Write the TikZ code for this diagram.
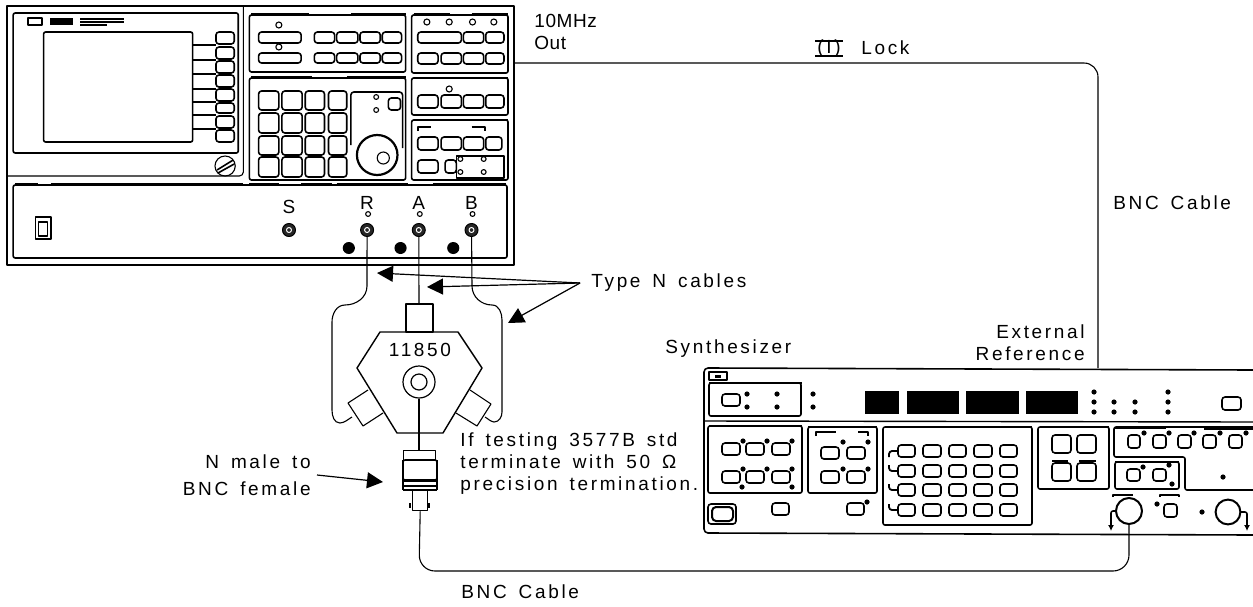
\documentclass[tikz,border=0pt]{standalone}
\usepackage{fontspec}
\setmainfont[LetterSpace=14,WordSpace=1.5]{Liberation Sans}
\usetikzlibrary{arrows.meta, positioning}
\begin{document}
\begin{tikzpicture}[x=0.5pt, y=-0.5pt, line join=round]
    \tikzstyle{line}=[line width=0.55pt]
    \tikzstyle{panel}=[line width=0.8pt, rounded corners=1pt]
    \tikzstyle{key}=[line width=0.8pt, rounded corners=1.5pt]
    \tikzstyle{hdr}=[line width=1pt]
    \tikzstyle{hdrb}=[line width=1.4pt]
    \tikzstyle{lbl}=[inner sep=0pt, align=left, font=\fontsize{9.5}{11}\selectfont]
    \tikzstyle{bnc}=[circle, draw, fill=black!85, line width=0.5pt, inner sep=0pt, minimum size=6.5pt]
    \tikzstyle{head}=[-{Triangle[length=8pt, width=8pt]}, line width=0.6pt]
    \useasboundingbox (0,0) rectangle (1253,606);

    \begin{scope}[xscale=1.014]
    \draw[line width=0.7pt] (7,6) rectangle (507,265);
    \draw[line] (240,6) -- (240,172) to[out=-90,in=0] (236,176) -- (7,176);
    \draw[panel] (13,13) rectangle (235,153);
    \draw[panel] (43,32) rectangle (190,142);
    \draw[line width=1pt] (28,18) rectangle (41,25);
    \fill (49,18) rectangle (72,25);
    \draw[line width=0.8pt] (79,19) -- (122,19) (79,22) -- (122,22) (79,25) -- (106,25);
    \foreach \ya/\yb in {32/44, 47/59, 61/73, 75/87, 89/101, 103/113, 116/128, 130/142}
        \draw[key] (213,\ya) rectangle (231,\yb);
    \foreach \y in {45, 60, 74, 89, 102, 115, 129}
        \draw[line width=0.8pt] (190,\y) -- (213,\y);
    \draw[line] (222,166) circle (10);
    \draw[line width=0.8pt] (214,170) -- (230,160) (215,173) -- (231,164);

    \draw[panel] (246,15) rectangle (400,72);
    \draw[hdr] (248,14) -- (305,14) (346,14) -- (400,14);
    \draw[key] (255,32) rectangle (297,43);
    \draw[key] (255,53) rectangle (297,63);
    \foreach \xa/\xb in {310/330, 332/353, 355/375, 377/396}
        \foreach \ya/\yb in {32/43, 53/63}
            \draw[key] (\xa,\ya) rectangle (\xb,\yb);
    \draw[line] (275,25) circle (1.5pt);
    \draw[line] (275,47) circle (1.5pt);

    \draw[panel] (406,15) rectangle (501,73);
    \draw[hdr] (408,14) -- (444,14) (465,14) -- (501,14);
    \draw[key] (412,32) rectangle (455,43);
    \foreach \xa/\xb/\ya/\yb in {457/477/32/43, 479/497/32/43, 412/432/53/64, 435/455/53/64, 457/477/53/64, 479/497/53/64}
        \draw[key] (\xa,\ya) rectangle (\xb,\yb);
    \foreach \x in {421, 443, 466, 487}
        \draw[line] (\x,22) circle (1.5pt);

    \draw[panel] (246,78) rectangle (400,180);
    \draw[hdr] (248,77) -- (308,77) (342,77) -- (400,77);
    \foreach \xa/\xb in {255/275, 278/298, 301/320, 324/342}
        \foreach \ya/\yb in {91/110, 113/133, 136/155, 157/177}
            \draw[key] (\xa,\ya) rectangle (\xb,\yb);
    \draw[key] (346,145) -- (346,92) -- (397,92) -- (397,148);
    \draw[line width=1.1pt] (372,155) circle (20);
    \draw[line] (378,158) circle (6);
    \draw[key] (383,98) rectangle (395,110);
    \draw[line] (371,97) circle (1.2pt);
    \draw[line] (371,110) circle (1.2pt);

    \draw[panel] (406,78) rectangle (501,115);
    \draw[hdr] (408,78) -- (442,78) (466,78) -- (501,78);
    \foreach \xa/\xb in {412/432, 435/455, 457/477, 479/497}
        \draw[key] (\xa,95) rectangle (\xb,108);
    \draw[line] (443,89) circle (1.5pt);

    \draw[panel] (406,120) rectangle (501,180);
    \draw[hdr] (408,120) -- (444,120) (465,120) -- (501,120);
    \draw[line width=0.9pt] (412,131) -- (412,127) -- (425,127) (465,127) -- (478,127) -- (478,131);
    \foreach \xa/\xb in {412/432, 435/455, 457/477, 479/495}
        \draw[key] (\xa,137) rectangle (\xb,150);
    \draw[key] (412,160) rectangle (432,173);
    \draw[key] (439,160) rectangle (450,173);
    \draw[line width=0.7pt] (450,156) rectangle (497,178);
    \draw[line width=1.2pt] (497,156) -- (497,178);
    \foreach \x/\y in {454/159, 477/159, 454/172, 477/172}
        \draw[line] (\x,\y) circle (1.2pt);

    \draw[panel] (13,185) rectangle (500,258);
    \foreach \xa/\xb in {15/37, 50/240, 246/275, 297/327, 332/402, 427/499}
        \draw[hdr] (\xa,184) -- (\xb,184);
    \draw[line width=0.8pt] (35,217) rectangle (50,239);
    \draw[line] (38,222) rectangle (47,236);

    \foreach \n/\x in {S/285, R/362, A/413, B/465}
        \draw (\x,230) node[bnc] (\n) {} node[circle, draw=white, line width=0.5pt, inner sep=0pt, minimum size=2.5pt] {};
    \foreach \x in {363, 414, 466}
        \draw[line] (\x,214) circle (1.2pt);
    \foreach \x in {344, 395, 447}
        \fill (\x,248) circle (3pt);
    \draw (285,207) node[lbl] (Slbl) {S};
    \draw (362,203) node[lbl] (Rlbl) {R};
    \draw (413,203) node[lbl] (Albl) {A};
    \draw (465,203) node[lbl] (Blbl) {B};
    \end{scope}

    \draw (534,32) node[lbl, anchor=west] (mhz) {\addfontfeature{LetterSpace=3}10MHz\\\addfontfeature{LetterSpace=3}Out};
    \draw (861,48) node[lbl, anchor=west] (lock) {Lock};
    \draw (829,48.5) node[inner sep=0pt, font=\fontsize{9.5}{10}\selectfont] (lockicon) {(I)};
    \draw[line] (815,41) -- (843,41) (815,56) -- (843,56);
    \draw (1113,203) node[lbl, anchor=west] (bncright) {BNC Cable};
    \draw (591,283) node[lbl, anchor=west] (typen) {Type N cables};
    \draw (665,349) node[lbl, anchor=west] (synth) {Synthesizer};
    \draw (1085,343) node[lbl, anchor=east, align=right] (extref) {External\\Reference};
    \draw (420,350) node[lbl] (model) {11850};
    \draw (460,464) node[lbl, anchor=west] (note) {If testing 3577B std\\terminate with 50 Ω\\precision termination.};
    \draw (311,475) node[lbl, anchor=east, align=right] (nmale) {N male to\\[2.5pt]BNC female};
    \draw (461,592) node[lbl, anchor=west] (bncbottom) {BNC Cable};

    \draw[line] (406,304) rectangle (433,332);
    \draw[line width=0.7pt] (380,332) -- (458,332) -- (482,368) -- (443,433) -- (397,433) -- (357,368) -- cycle;
    \draw[line] (368,390) -- (348,403) -- (363,426) -- (383,413);
    \draw[line] (470,390) -- (491,404) -- (477,426) -- (456,413);
    \draw[line width=0.6pt] (419,382) circle (8);
    \draw (419,382) node[circle, draw, line width=0.6pt, inner sep=0pt, minimum size=16pt] (port) {};
    \coordinate (top) at (419,304);
    \coordinate (lport) at (352,417);
    \coordinate (rport) at (485,417);

    \draw (403,450) node[anchor=north west, draw, line width=0.7pt, inner sep=0pt, minimum width=16pt, minimum height=5pt] (adapter) {};
    \draw[line width=0.8pt, rounded corners=1pt] (403,460) rectangle (437,480);
    \draw[line width=1.2pt] (403,481) -- (437,481) (403,486) -- (437,486);
    \draw[line] (403,460) -- (403,490) (437,460) -- (437,490) (403,490) -- (437,490);
    \draw (412,490) node[anchor=north west, draw, line width=0.7pt, inner sep=0pt, minimum width=7.5pt, minimum height=10pt] (bncend) {};
    \draw[line width=1.1pt] (410,503) -- (410,508) (429,503) -- (429,508);

    \draw[line] (R) -- (367,286) to[out=-90,in=0] (345,305) to[out=180,in=90] (332,322) -- (332,410) to[out=-90,in=180] (340,423) to[out=5,in=210] (lport);
    \draw[line] (B) -- (472,286) to[out=-90,in=180] (492,305) to[out=0,in=90] (502,320) -- (502,412) to[out=-90,in=0] (494,422) to[out=170,in=-30] (rport);
    \draw[line] (A) -- (top);
    \draw[line] (port.south) -- (adapter.north -| port);
    \draw[line, rounded corners=8pt] (bncend.south) -- (419,571) -- (1129,571) -- (1129,524);
    \draw[line, rounded corners=7pt] (514,63) -- (1098,63) -- (1098,368);

    \coordinate (apex) at (580,283);
    \coordinate (hr) at (377,273);
    \coordinate (ha) at (427,287);
    \coordinate (hb) at (508,323);
    \coordinate (hm) at (383,482);
    \coordinate (hn) at (317,475);
    \draw[head] (apex) -- (hr);
    \draw[head] (apex) -- (ha);
    \draw[head] (apex) -- (hb);
    \draw[head] (hn) -- (hm);

    \draw[line width=0.8pt] (1253,370) -- (708,368) to[out=180,in=90] (704,372) -- (704,529) to[out=-90,in=180] (708,533) -- (1253,535);
    \draw[line width=0.7pt] (704,421) -- (1253,422);
    \draw[line width=1pt] (709,372) rectangle (727,380);
    \fill (715,375) rectangle (721,378);
    \draw[panel] (709,383) rectangle (801,416);
    \draw[hdrb] (709,383) -- (747,383) (765,383) -- (802,383);
    \draw[key] (722,394) rectangle (740,406);
    \foreach \x in {747, 777, 813}
        \foreach \y in {394, 407}
            \fill (\x,\y) circle (1.3pt);
    \foreach \xa/\xb in {865/899, 907/959, 966/1019, 1026/1078}
        \fill (\xa,391) rectangle (\xb,414);
    \foreach \x/\y in {1094/392, 1094/402, 1094/412, 1114/402, 1114/412, 1135/402, 1135/412, 1168/392, 1168/402, 1168/412}
        \fill (\x,\y) circle (1.3pt);
    \draw[key] (1222,397) rectangle (1241,410);

    \draw[panel] (708,426) rectangle (802,493);
    \draw[hdrb] (709,426) -- (734,426) (778,426) -- (802,426);
    \foreach \xa/\xb in {722/740, 746/764, 772/790}
        \foreach \ya/\yb in {443/455, 471/483}
            \draw[key] (\xa,\ya) rectangle (\xb,\yb);
    \foreach \x/\y in {743/441, 767/441, 792/441, 743/469, 767/469, 792/469, 742/487, 792/487, 843/442, 868/442, 843/469, 868/469}
        \fill (\x,\y) circle (1.3pt);

    \draw[panel] (808,427) rectangle (877,493);
    \draw[hdrb] (808,427) -- (835,427) (851,427) -- (877,427);
    \draw[line width=0.8pt] (816,436) -- (816,432) -- (836,432) (858,432) -- (868,432) -- (868,436);
    \foreach \xa/\xb in {821/839, 847/865}
        \foreach \ya/\yb in {447/459, 471/483}
            \draw[key] (\xa,\ya) rectangle (\xb,\yb);

    \draw[panel] (883,427) rectangle (1032,525);
    \draw[hdrb] (885,427) -- (952,427) (964,427) -- (1032,427);
    \foreach \xa/\xb in {898/915, 923/941, 949/966, 974/992, 1000/1017}
        \foreach \ya/\yb in {445/457, 465/477, 484/496, 504/516}
            \draw[key] (\xa,\ya) rectangle (\xb,\yb);
    \foreach \ya/\yb in {451/457, 471/465, 490/484, 510/504}
        \draw[line width=0.9pt, rounded corners=1.5pt] (898,\ya) -- (889,\ya) -- (889,\yb);

    \draw[panel] (1038,427) rectangle (1109,489);
    \draw[hdrb] (1040,427) -- (1064,427) (1083,427) -- (1109,427);
    \draw[line width=0.7pt] (1052,461) -- (1068,461) (1079,461) -- (1096,461);
    \foreach \xa/\xb in {1052/1071, 1077/1096}
        \foreach \ya/\yb in {435/453, 463/481}
            \draw[key] (\xa,\ya) rectangle (\xb,\yb);

    \draw[panel] (1253,490) -- (1185,490) -- (1185,457) -- (1114,457) -- (1114,427) -- (1253,427);
    \draw[hdrb] (1115,428) -- (1166,428) (1204,429) -- (1253,429);
    \foreach \xa/\xb in {1128/1140, 1153/1166, 1178/1191, 1203/1216, 1229/1242}
        \draw[key] (\xa,435) rectangle (\xb,448);
    \foreach \x in {1144, 1169, 1194, 1220, 1246}
        \fill (\x,433) circle (1.3pt);
    \draw[panel] (1115,462) rectangle (1179,489);
    \draw[hdrb] (1115,462) -- (1130,462) (1163,462) -- (1179,462);
    \draw[key] (1127,469) rectangle (1140,481);
    \draw[key] (1153,469) rectangle (1166,481);
    \foreach \x/\y in {1143/467, 1169/465, 1172/484, 1223/477, 1157/504, 1202/512}
        \fill (\x,\y) circle (1.3pt);
    \draw[line width=0.8pt] (1113,497) -- (1113,495) -- (1133,495) (1160,497) -- (1160,495) -- (1179,495) -- (1179,497);
    \draw (1129,511) node[circle, draw, line width=1pt, inner sep=0pt, minimum size=13pt] (knob) {};
    \draw[line width=0.8pt, rounded corners=1pt] (1116,511) -- (1111,511) -- (1111,522);
    \draw[-{Latex[length=3pt, width=3pt]}, line width=0.6pt] (1111,522) -- (1111,531);
    \draw[key] (1164,504) rectangle (1177,517);
    \draw[line width=1pt] (1228,512) circle (6.2pt);
    \draw[line width=0.8pt, rounded corners=1pt] (1241,512) -- (1247,512) -- (1247,522);
    \draw[-{Latex[length=3pt, width=3pt]}, line width=0.6pt] (1247,522) -- (1247,531);
    \draw[line width=0.8pt, rounded corners=1.5pt] (708,504) rectangle (736,524);
    \draw[line width=1pt, rounded corners=2pt] (712,507) rectangle (733,521);
    \draw[key] (772,503) rectangle (789,515);
    \draw[key] (847,503) rectangle (864,515);
    \fill (867,502) circle (1.3pt);
\end{tikzpicture}
\end{document}
